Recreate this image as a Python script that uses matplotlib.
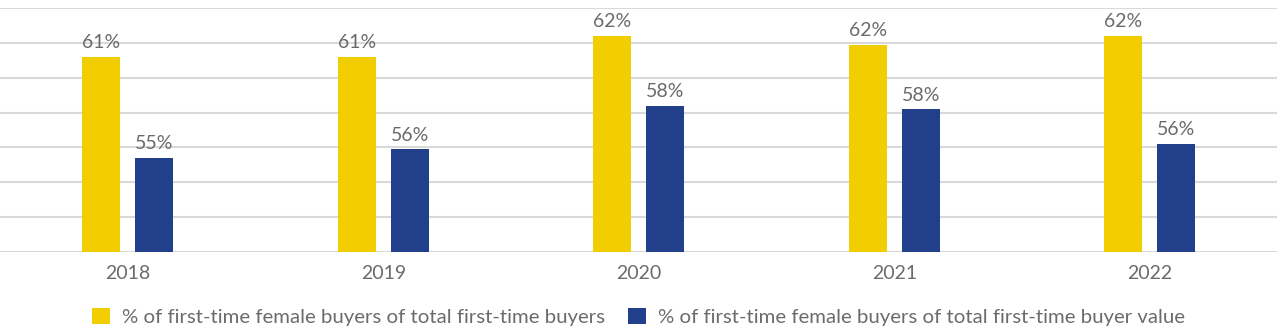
import matplotlib.pyplot as plt
import numpy as np

years = ['2018', '2019', '2020', '2021', '2022']
share_of_buyers = [61.2, 61.2, 62.4, 61.9, 62.4]
share_of_value = [55.4, 55.9, 58.4, 58.2, 56.2]
series_names = ['% of first-time female buyers of total first-time buyers',
                '% of first-time female buyers of total first-time buyer value']

yellow = '#f2cd00'
blue = '#223f8c'
text_gray = '#6b6b6b'

plt.rcParams['font.family'] = ['Lato', 'DejaVu Sans']

fig = plt.figure(figsize=(12.8, 3.34), dpi=100)
ax = fig.add_axes([0.0, 0.2455, 0.998, 0.7305])

x = np.arange(len(years))
w = 0.149
off = 0.104
b1 = ax.bar(x - off, share_of_buyers, w, color=yellow, label=series_names[0], zorder=3)
b2 = ax.bar(x + off, share_of_value, w, color=blue, label=series_names[1], zorder=3)

for bars in (b1, b2):
    ax.bar_label(bars, labels=['{:.0f}%'.format(v) for v in bars.datavalues],
                 padding=4, fontsize=14, color=text_gray)

ax.set_xlim(-0.5, 4.5)
ax.set_ylim(50, 64)
ax.set_yticks(np.arange(50, 65, 2))
ax.yaxis.grid(True, color='#d9d9d9', linewidth=1.5, zorder=0)
ax.tick_params(axis='y', left=False, labelleft=False)
ax.set_xticks(x)
ax.set_xticklabels(years, fontsize=14, color=text_gray)
ax.tick_params(axis='x', length=0, pad=9)
for s in ax.spines.values():
    s.set_visible(False)

fig.legend(loc='center', bbox_to_anchor=(0.499, 0.05), ncol=2, frameon=False,
           fontsize=14.7, labelcolor=text_gray, handlelength=0.85, handleheight=0.85,
           handletextpad=0.6, columnspacing=1.15)

fig.savefig('out.png', dpi=100)
